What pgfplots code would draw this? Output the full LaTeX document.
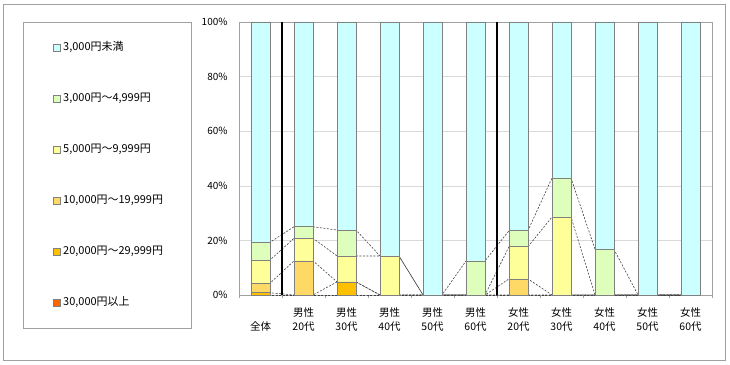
\documentclass[border=0pt]{standalone}
\usepackage{fontspec}
\setmainfont{Noto Sans CJK JP}
\usepackage{pgfplots}
\usepackage{pgfplotstable}
\pgfplotsset{compat=1.18}
\definecolor{cA}{HTML}{CCFFFF}
\definecolor{cB}{HTML}{DDFFBB}
\definecolor{cC}{HTML}{FFFF99}
\definecolor{cD}{HTML}{FFD966}
\definecolor{cE}{HTML}{FFC000}
\definecolor{cF}{HTML}{FF6600}
\definecolor{bord}{HTML}{808080}
\definecolor{frame}{HTML}{A0A0A0}

% percentages, stacked from the bottom: s6 = 30,000 and over ... s1 = under 3,000
\pgfplotstableread{
x s6 s5 s4 s3 s2 s1
0 0 0.8 3.5 8.5 6.5 80.7
1 0 0 12.5 8.3 4.2 75.0
2 0 4.8 0 9.5 9.5 76.2
3 0 0 0 14.3 0 85.7
4 0 0 0 0 0 100
5 0 0 0 0 12.5 87.5
6 0 0 5.9 11.8 5.9 76.4
7 0 0 0 28.6 14.3 57.1
8 0 0 0 0 16.7 83.3
9 0 0 0 0 0 100
10 0 0 0 0 0 100
}\data

\pgfplotsset{common/.style={
  scale only axis, width=473bp, height=273bp,
  xmin=-0.5, xmax=10.5, ymin=0, ymax=100,
  at={(239bp,69bp)}, anchor=south west,
},
sline/.style={black!75, line width=0.6bp, dash pattern=on 2bp off 1.5bp, no marks}}

\begin{document}
\begin{tikzpicture}[x=1bp,y=1bp]
\useasboundingbox (0,0) rectangle (730,364);
\draw[frame] (3,4) rectangle (725,360);
\draw[frame] (23,36) rectangle (191,342);

% background axis: grid, ticks, labels, series lines
\begin{axis}[common,
  axis line style={frame},
  ymajorgrids, grid style={gray!30},
  ytick={0,20,...,100},
  yticklabel={\pgfmathprintnumber{\tick}\%},
  /pgf/number format/assume math mode=true,
  yticklabel style={font=\fontsize{10}{11}\selectfont, xshift=-8bp},
  ytick pos=left, major tick length=0pt,
  xtick={0,...,10},
  xticklabels={{\phantom{男性}\\全体},{男性\\20代},{男性\\30代},{男性\\40代},{男性\\50代},{男性\\60代},{女性\\20代},{女性\\30代},{女性\\40代},{女性\\50代},{女性\\60代}},
  xticklabel style={align=center, font=\fontsize{10.5}{14}\selectfont, yshift=-9bp},
  minor xtick={-0.5,0.5,...,10.5},
  minor tick length=3bp, tick align=outside,
  xtick pos=bottom, tick style={frame},
]
% series lines at each cumulative level
\addplot[sline] coordinates {(-0.22,0) (10.22,0)};
\addplot[sline] coordinates {(-0.22,0.8) (0.22,0.8) (0.78,0) (1.22,0) (1.78,4.8) (2.22,4.8) (2.78,0) (10.22,0)};
\addplot[sline] coordinates {(-0.22,4.3) (0.22,4.3) (0.78,12.5) (1.22,12.5) (1.78,4.8) (2.22,4.8) (2.78,0) (3.22,0) (3.78,0) (4.22,0) (4.78,0) (5.22,0) (5.78,5.9) (6.22,5.9) (6.78,0) (10.22,0)};
\addplot[sline] coordinates {(-0.22,12.8) (0.22,12.8) (0.78,20.8) (1.22,20.8) (1.78,14.3) (2.22,14.3) (2.78,14.3) (3.22,14.3) (3.78,0) (4.22,0) (4.78,0) (5.22,0) (5.78,17.7) (6.22,17.7) (6.78,28.6) (7.22,28.6) (7.78,0) (10.22,0)};
\addplot[sline] coordinates {(-0.22,19.3) (0.22,19.3) (0.78,25.0) (1.22,25.0) (1.78,23.8) (2.22,23.8) (2.78,14.3) (3.22,14.3) (3.78,0) (4.22,0) (4.78,12.5) (5.22,12.5) (5.78,23.6) (6.22,23.6) (6.78,42.9) (7.22,42.9) (7.78,16.7) (8.22,16.7) (8.78,0) (10.22,0)};
\draw[black, line width=1.6bp] (axis cs:0.5,0) -- (axis cs:0.5,100);
\draw[black, line width=1.6bp] (axis cs:5.5,0) -- (axis cs:5.5,100);
\end{axis}

% bars
\begin{axis}[common,
  axis lines=none, ticks=none,
  ybar stacked, bar width=19bp,
  reverse legend,
  legend style={at={(-0.3932,0.927)}, anchor=north west, draw=none, fill=none,
    inner sep=0pt, row sep=40bp, column sep=1.5bp,
    font=\fontsize{11}{12}\selectfont,
    nodes={inner xsep=1bp, inner ysep=0.5bp, text height=7.5bp, text depth=2.5bp}},
  legend cell align=left,
  legend image code/.code={\draw[#1, draw=bord, line width=0.5bp] (0bp,-3.5bp) rectangle (7bp,3.5bp);},
]
\pgfplotsset{every axis plot/.append style={draw=bord, line width=0.7bp}}
\addplot[fill=cF] table[x=x,y=s6]{\data};
\addplot[fill=cE] table[x=x,y=s5]{\data};
\addplot[fill=cD] table[x=x,y=s4]{\data};
\addplot[fill=cC] table[x=x,y=s3]{\data};
\addplot[fill=cB] table[x=x,y=s2]{\data};
\addplot[fill=cA] table[x=x,y=s1]{\data};
\legend{30{,}000円以上,20{,}000円～29{,}999円,10{,}000円～19{,}999円,5{,}000円～9{,}999円,3{,}000円～4{,}999円,3{,}000円未満}
\end{axis}
\end{tikzpicture}
\end{document}
